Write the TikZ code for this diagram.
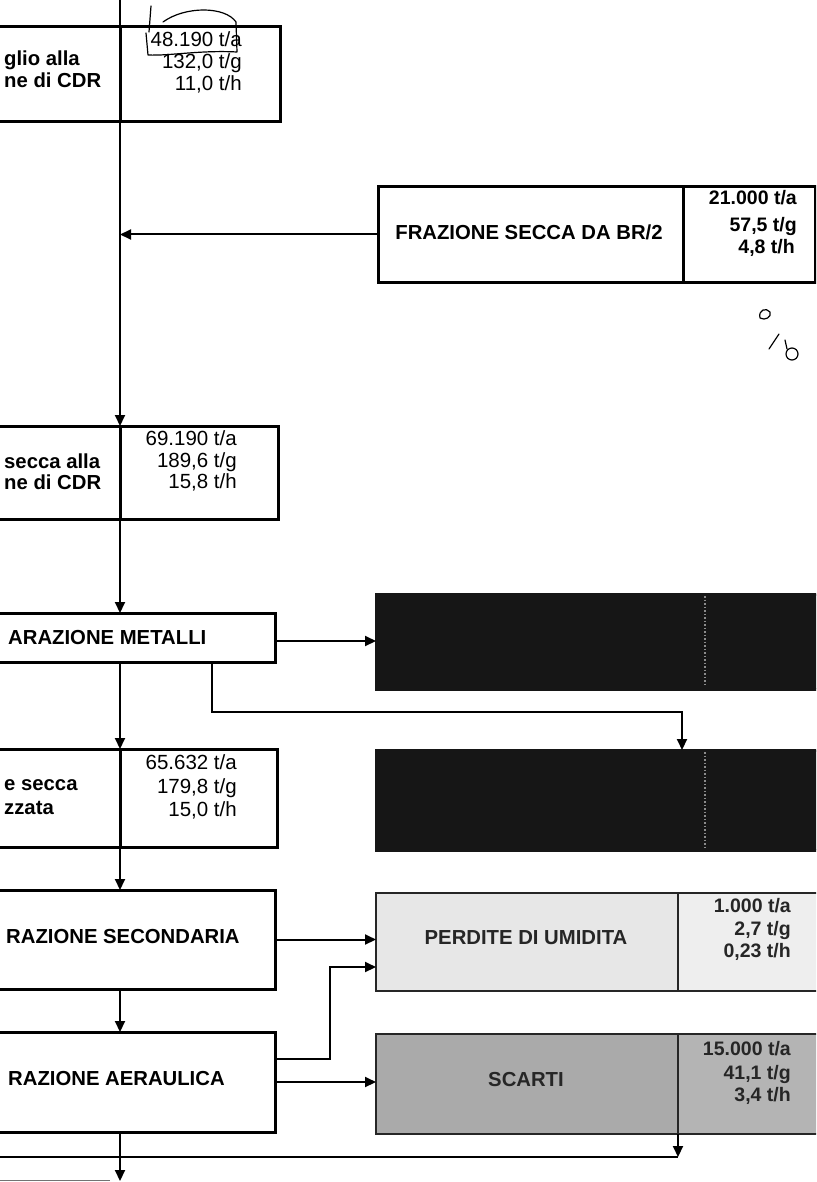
\documentclass[tikz,border=0pt]{standalone}
\usepackage{fontspec}
\setmainfont{Liberation Sans}
\usetikzlibrary{arrows.meta,calc}
\definecolor{inkblack}{HTML}{161616}
\definecolor{lightfill}{HTML}{E7E7E7}
\definecolor{lightfillb}{HTML}{EEEEEE}
\definecolor{midfill}{HTML}{AAAAAA}
\definecolor{midfillb}{HTML}{B4B4B4}
\begin{document}
\begin{tikzpicture}[x=1pt,y=-1pt,
  cell/.style={draw,line width=3pt,inner sep=0pt,outer sep=0pt,anchor=north west},
  graycell/.style={cell,draw=black!85,line width=2.4pt},
  darkcell/.style={cell,draw=inkblack,fill=inkblack},
  lbl/.style={font=\fontsize{20.3}{23}\selectfont\bfseries,inner sep=0pt,anchor=mid west},
  clbl/.style={font=\fontsize{20.3}{23}\selectfont\bfseries,inner sep=0pt,anchor=mid},
  num/.style={font=\fontsize{20.5}{23}\selectfont,inner sep=0pt,anchor=mid east},
  bnum/.style={font=\fontsize{19.5}{23}\selectfont\bfseries,inner sep=0pt,anchor=mid east},
  conn/.style={line width=2pt},
  arr/.style={conn,-{Triangle[length=11pt,width=10pt]}},
  hand/.style={line width=1.2pt,line cap=round,line join=round},
]
\useasboundingbox (0,0) rectangle (816,1182);
\clip (0,0) rectangle (816,1182);
\fill[white] (0,0) rectangle (816,1182);

% ---- boxes ----
\node[cell,minimum width=130,minimum height=95] (b1L) at (-10,27) {};
\node[cell,minimum width=160,minimum height=95] (b1R) at (120,27) {};
\node[cell,minimum width=305,minimum height=95] (b2L) at (378,187) {};
\node[cell,minimum width=132,minimum height=95] (b2R) at (683,187) {};
\node[cell,minimum width=130,minimum height=93] (b3L) at (-10,426) {};
\node[cell,minimum width=158,minimum height=93] (b3R) at (120,426) {};
\node[cell,minimum width=285,minimum height=49] (b4) at (-10,613) {};
\node[darkcell,minimum width=445,minimum height=95] (blk1) at (376,594) {};
\node[cell,minimum width=130,minimum height=98] (b5L) at (-10,749) {};
\node[cell,minimum width=157,minimum height=98] (b5R) at (120,749) {};
\node[darkcell,minimum width=445,minimum height=100] (blk2) at (376,750) {};
\node[cell,minimum width=285,minimum height=99] (b6) at (-10,890) {};
\node[graycell,fill=lightfill,minimum width=302,minimum height=98] (pL) at (376,893) {};
\node[graycell,fill=lightfillb,minimum width=140,minimum height=98] (pR) at (678,893) {};
\node[cell,minimum width=285,minimum height=100] (b7) at (-10,1032) {};
\node[graycell,fill=midfill,minimum width=302,minimum height=100] (sL) at (376,1034) {};
\node[graycell,fill=midfillb,minimum width=140,minimum height=100] (sR) at (678,1034) {};

% faint dividers visible in the black boxes
\draw[black!45,line width=1.5pt,dotted] ($(blk1.north west)+(329,2)$) -- ($(blk1.south west)+(329,-2)$);
\draw[black!45,line width=1.5pt,dotted] ($(blk2.north west)+(329,2)$) -- ($(blk2.south west)+(329,-2)$);

% ---- texts ----
\node[lbl] (t1a) at (4,63) {glio alla};
\node[lbl] (t1b) at (4,85) {ne di CDR};
\node[num] (n1a) at (242,44) {48.190 t/a};
\node[num] (n1b) at (242,66) {132,0 t/g};
\node[num] (n1c) at (242,88) {11,0 t/h};

\node[clbl] (t2) at (529,237) {FRAZIONE SECCA DA BR/2};
\node[bnum] (n2a) at (797,202) {21.000 t/a};
\node[bnum] (n2b) at (797,229) {57,5 t/g};
\node[bnum] (n2c) at (795,251) {4,8 t/h};

\node[lbl] (t3a) at (4,466) {secca alla};
\node[lbl] (t3b) at (4,487) {ne di CDR};
\node[num] (n3a) at (237,443) {69.190 t/a};
\node[num] (n3b) at (237,465) {189,6 t/g};
\node[num] (n3c) at (237,486) {15,8 t/h};

\node[lbl] (t4) at (8,642) {ARAZIONE METALLI};

\node[lbl] (t5a) at (4,788) {e secca};
\node[lbl] (t5b) at (4,812) {zzata};
\node[num] (n5a) at (237,767) {65.632 t/a};
\node[num] (n5b) at (237,791) {179,8 t/g};
\node[num] (n5c) at (237,814) {15,0 t/h};

\node[lbl] (t6) at (6,941) {RAZIONE SECONDARIA};
\node[clbl,text=black!85] (tp) at (526,942) {PERDITE DI UMIDITA};
\node[bnum,text=black!85] (npa) at (791,910) {1.000 t/a};
\node[bnum,text=black!85] (npb) at (791,933) {2,7 t/g};
\node[bnum,text=black!85] (npc) at (791,955) {0,23 t/h};

\node[lbl] (t7) at (8,1083) {RAZIONE AERAULICA};
\node[clbl,text=black!85] (ts) at (526,1084) {SCARTI};
\node[bnum,text=black!85] (nsa) at (791,1053) {15.000 t/a};
\node[bnum,text=black!85] (nsb) at (791,1077) {41,1 t/g};
\node[bnum,text=black!85] (nsc) at (791,1099) {3,4 t/h};

% ---- connectors ----
\coordinate (top) at (120,0);
\coordinate (bottom) at (120,1181);
\draw[conn] (top) -- (b1L.north east);
\draw[arr] (b1L.south east) -- (b3L.north east);
\draw[arr] (b2L.west) -- (b2L.west -| b1L.east);
\draw[arr] (b3L.south east) -- (b3L.south east |- b4.north);
\draw[arr] (b1L.east |- b4.south) -- (b5L.north east);
\draw[arr] (b5L.south east) -- (b5L.south east |- b6.north);
\draw[arr] (b1L.east |- b6.south) -- (b1L.east |- b7.north);
\draw[arr] (b1L.east |- b7.south) -- (bottom);

\draw[arr] (b4.east |- 0,641) -- (blk1.west |- 0,641);
\coordinate (br1) at (212,712);
\coordinate (blk2tap) at ($(blk2.north west)+(306,0)$);
\draw[arr] (b4.south -| br1) -- (br1) -- (br1 -| blk2tap) -- (blk2tap);

\draw[arr] (b6.east) -- (b6.east -| pL.west);
\coordinate (j1) at (330,1059);
\coordinate (j2) at (330,967);
\draw[arr] (b7.east |- j1) -- (j1) -- (j2) -- (j2 -| pL.west);
\draw[arr] (b7.east) -- (b7.east -| sL.west);

\coordinate (hl) at (0,1157);
\draw[conn] (hl) -- (hl -| sR.west);
\draw[arr] (sR.south west) -- (sR.south west |- hl);

\draw[black!55,line width=1.2pt] (0,1180.5) -- (110,1180.5);

% ---- handwritten marks ----
\draw[hand] (151,6) -- (149,32);
\draw[hand] (163,22) .. controls (185,6) and (225,6) .. (236,22) -- (237,52)
  .. controls (200,50) and (170,56) .. (148,55) -- (146,33);
\draw[hand] (760,318) .. controls (758,310) and (766,307) .. (770,312) .. controls (772,317) and (765,321) .. (760,318);
\draw[hand] (769,349) -- (779,334);
\draw[hand] (792,354) circle[radius=6];
\draw[hand] (787,349) -- (785,340);
\end{tikzpicture}
\end{document}
